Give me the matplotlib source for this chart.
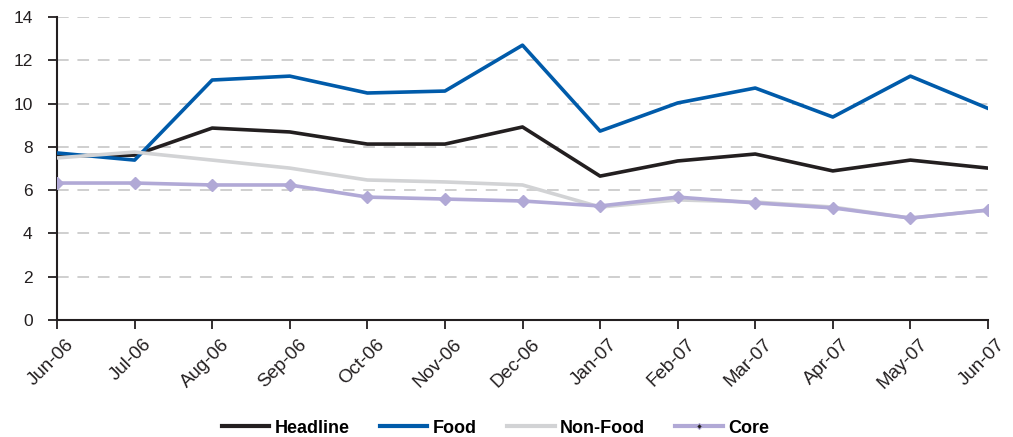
import matplotlib.pyplot as plt
import matplotlib.transforms as mtransforms
from matplotlib.lines import Line2D

plt.rcParams['font.family'] = ['Liberation Sans', 'DejaVu Sans']

months = ["Jun-06", "Jul-06", "Aug-06", "Sep-06", "Oct-06", "Nov-06", "Dec-06",
          "Jan-07", "Feb-07", "Mar-07", "Apr-07", "May-07", "Jun-07"]
headline = [7.58, 7.62, 8.87, 8.69, 8.13, 8.13, 8.92, 6.65, 7.35, 7.67, 6.89, 7.39, 7.02]
food = [7.72, 7.39, 11.09, 11.27, 10.49, 10.58, 12.70, 8.73, 10.03, 10.72, 9.38, 11.27, 9.78]
non_food = [7.49, 7.76, 7.39, 7.02, 6.47, 6.38, 6.24, 5.22, 5.55, 5.45, 5.22, 4.71, 5.08]
core = [6.33, 6.33, 6.24, 6.24, 5.68, 5.59, 5.50, 5.27, 5.68, 5.41, 5.18, 4.71, 5.08]

C_HEAD, C_FOOD, C_NONFOOD, C_CORE = "#231F20", "#005BAA", "#D2D3D5", "#B1A9D6"

fig = plt.figure(figsize=(10.13, 4.37), dpi=100)
ax = fig.add_axes([0.0563, 0.2677, 0.919, 0.6933])

x = range(len(months))
ax.plot(x, headline, color=C_HEAD, lw=2.6, zorder=3)
ax.plot(x, food, color=C_FOOD, lw=2.6, zorder=3)
ax.plot(x, non_food, color=C_NONFOOD, lw=2.6, zorder=3)
ax.plot(x, core, color=C_CORE, lw=2.6, marker="D", ms=6, zorder=4)

ax.set_xlim(0, len(months) - 1)
ax.set_ylim(0, 14)
ax.set_yticks(range(0, 15, 2))
ax.set_xticks(list(x))
ax.set_xticklabels(months, rotation=45, ha="right", va="top", rotation_mode="anchor")
ax.tick_params(axis="both", colors="#231F20", length=6.5, width=1.3, direction="out")
ax.tick_params(axis="x", labelsize=13.5, pad=5)
ax.tick_params(axis="y", labelsize=12.5, pad=11)

# nudge the slanted month labels a little to the right of their ticks
shift = mtransforms.ScaledTranslation(6 / 72, 0, fig.dpi_scale_trans)
for lbl in ax.get_xticklabels():
    lbl.set_transform(lbl.get_transform() + shift)

ax.yaxis.grid(True, linestyle=(0, (6, 4.5)), color="#CFCFCF", lw=1.4)
ax.set_axisbelow(True)
for side in ("top", "right"):
    ax.spines[side].set_visible(False)
for side in ("left", "bottom"):
    ax.spines[side].set_linewidth(1.5)
    ax.spines[side].set_color("#231F20")

handles = [
    Line2D([], [], color=C_HEAD, lw=3),
    Line2D([], [], color=C_FOOD, lw=3),
    Line2D([], [], color=C_NONFOOD, lw=3),
    Line2D([], [], color=C_CORE, lw=3, marker="D", ms=3,
           markerfacecolor=C_HEAD, markeredgecolor=C_CORE, markeredgewidth=0.8),
]
fig.legend(handles, ["Headline", "Food", "Non-Food", "Core"],
           loc="center", bbox_to_anchor=(0.489, 0.02), ncol=4, frameon=False,
           prop={"weight": "bold", "size": 13}, handlelength=2.65, handletextpad=0.3,
           columnspacing=1.65)

fig.savefig("out.png", dpi=100)
